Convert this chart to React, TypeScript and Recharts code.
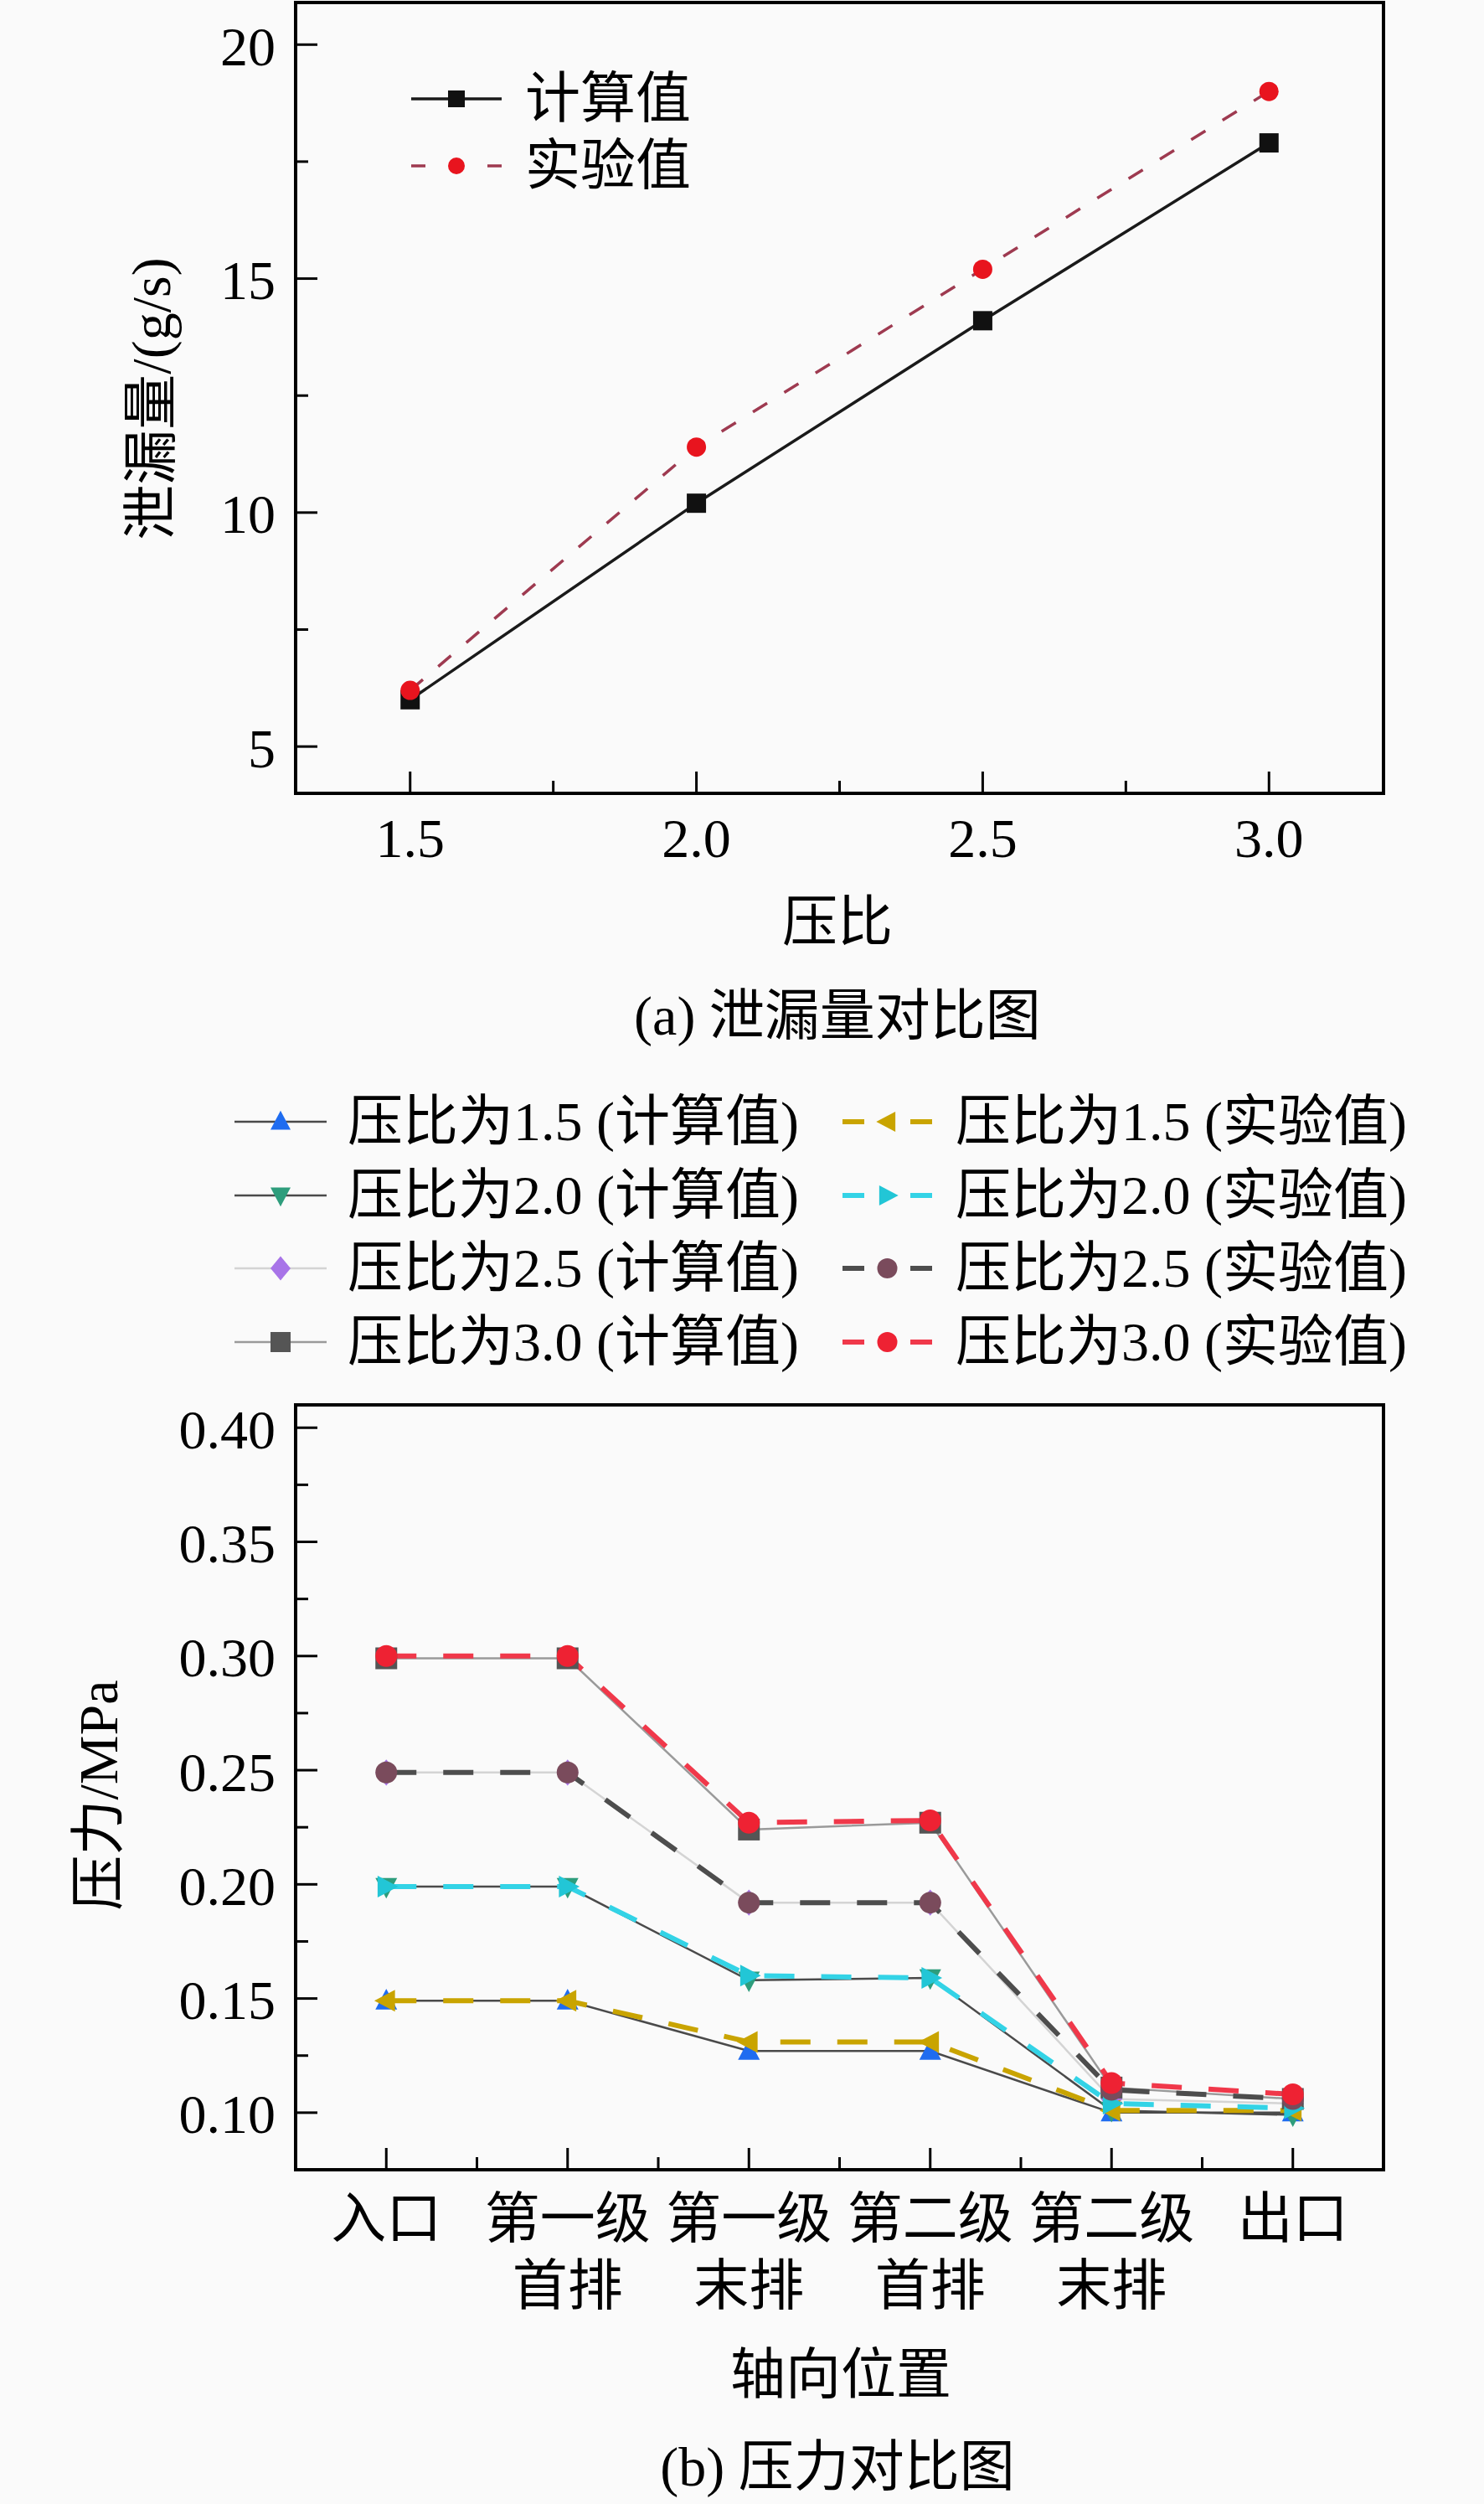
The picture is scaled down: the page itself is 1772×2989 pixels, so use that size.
import React from "react";
import { LineChart, Line, XAxis, YAxis, ReferenceArea } from "recharts";

const FONT = "'Times New Roman', 'Liberation Serif', 'Noto Sans CJK SC', serif";

// (a) 泄漏量对比图
const ratios = [1.5, 2.0, 2.5, 3.0];
const leakCalc = [6.0, 10.2, 14.1, 17.9];
const leakExp = [6.2, 11.4, 15.2, 19.0];
const leakXTicks = [1.5, 1.75, 2.0, 2.25, 2.5, 2.75, 3.0];
const leakYTicks = [5, 7.5, 10, 12.5, 15, 17.5, 20];

// (b) 压力对比图
const positions = ["入口", "第一级\n首排", "第一级\n末排", "第二级\n首排", "第二级\n末排", "出口"];
const calc15 = [0.149, 0.149, 0.127, 0.127, 0.1, 0.1];
const exp15 = [0.149, 0.149, 0.131, 0.131, 0.101, 0.101];
const calc20 = [0.199, 0.199, 0.158, 0.159, 0.101, 0.099];
const exp20 = [0.199, 0.199, 0.16, 0.159, 0.104, 0.102];
const calc25 = [0.249, 0.249, 0.192, 0.192, 0.106, 0.104];
const exp25 = [0.249, 0.249, 0.192, 0.192, 0.11, 0.106];
const calc30 = [0.299, 0.299, 0.224, 0.227, 0.111, 0.106];
const exp30 = [0.3, 0.3, 0.227, 0.228, 0.113, 0.108];
const posXTicks = [0, 0.5, 1, 1.5, 2, 2.5, 3, 3.5, 4, 4.5, 5];
const presYTicks = [0.1, 0.125, 0.15, 0.175, 0.2, 0.225, 0.25, 0.275, 0.3, 0.325, 0.35, 0.375, 0.4];

const leakRows = ratios.map((r, i) => ({ ratio: r, calc: leakCalc[i], exp: leakExp[i] }));
const presRows = positions.map((p, i) => ({
  idx: i,
  calc15: calc15[i],
  exp15: exp15[i],
  calc20: calc20[i],
  exp20: exp20[i],
  calc25: calc25[i],
  exp25: exp25[i],
  calc30: calc30[i],
  exp30: exp30[i],
}));

type Shape = "square" | "circle" | "up" | "down" | "left" | "right" | "diamond";

function Marker({ cx, cy, shape, fill, size }: { cx: number; cy: number; shape: Shape; fill: string; size: number }) {
  const r = size / 2;
  if (cx == null || cy == null) return null;
  switch (shape) {
    case "square":
      return <rect x={cx - r} y={cy - r} width={size} height={size} fill={fill} />;
    case "circle":
      return <circle cx={cx} cy={cy} r={r} fill={fill} />;
    case "up":
      return <polygon points={`${cx},${cy - r * 1.1} ${cx + r},${cy + r * 0.8} ${cx - r},${cy + r * 0.8}`} fill={fill} />;
    case "down":
      return <polygon points={`${cx},${cy + r * 1.1} ${cx + r},${cy - r * 0.8} ${cx - r},${cy - r * 0.8}`} fill={fill} />;
    case "left":
      return <polygon points={`${cx - r * 1.1},${cy} ${cx + r * 0.8},${cy - r} ${cx + r * 0.8},${cy + r}`} fill={fill} />;
    case "right":
      return <polygon points={`${cx + r * 1.1},${cy} ${cx - r * 0.8},${cy - r} ${cx - r * 0.8},${cy + r}`} fill={fill} />;
    default:
      return <polygon points={`${cx},${cy - r * 1.2} ${cx + r},${cy} ${cx},${cy + r * 1.2} ${cx - r},${cy}`} fill={fill} />;
  }
}

const leakSeries = [
  { key: "calc", name: "计算值", line: "#1a1a1a", width: 3.5, dash: undefined as string | undefined, shape: "square" as Shape, fill: "#111111", legendDash: undefined as string | undefined },
  { key: "exp", name: "实验值", line: "#9e3a50", width: 3.5, dash: "20 24", shape: "circle" as Shape, fill: "#e8141e", legendDash: "17 74" },
];

const presSeries = [
  { key: "calc15", name: "压比为1.5 (计算值)", line: "#4a4a4a", width: 2.5, dash: undefined as string | undefined, shape: "up" as Shape, fill: "#1f6cf0" },
  { key: "calc20", name: "压比为2.0 (计算值)", line: "#4a4a4a", width: 2.5, dash: undefined, shape: "down" as Shape, fill: "#2e9d7c" },
  { key: "calc25", name: "压比为2.5 (计算值)", line: "#d4d4d4", width: 2.5, dash: undefined, shape: "diamond" as Shape, fill: "#a874e8" },
  { key: "calc30", name: "压比为3.0 (计算值)", line: "#9a9a9a", width: 2.5, dash: undefined, shape: "square" as Shape, fill: "#555555" },
  { key: "exp15", name: "压比为1.5 (实验值)", line: "#c9a400", width: 6, dash: "36 32", shape: "left" as Shape, fill: "#c9a400" },
  { key: "exp20", name: "压比为2.0 (实验值)", line: "#33d3e6", width: 6, dash: "36 32", shape: "right" as Shape, fill: "#22c6d6" },
  { key: "exp25", name: "压比为2.5 (实验值)", line: "#4d4d4d", width: 6, dash: "36 32", shape: "circle" as Shape, fill: "#7a4b5c" },
  { key: "exp30", name: "压比为3.0 (实验值)", line: "#f0384a", width: 6, dash: "36 32", shape: "circle" as Shape, fill: "#ee2233" },
];

const FS = 66;
const textStyle = { fontFamily: FONT, fontSize: FS, fill: "#000" };

const LeakXTick = (props: any) => {
  const { x, y, payload } = props;
  const major = Number.isInteger(payload.value * 2);
  return (
    <g>
      <line x1={x} y1={y} x2={x} y2={y - (major ? 26 : 15)} stroke="#000" strokeWidth={3} />
      {major && (
        <text x={x} y={y + 53} textAnchor="middle" dominantBaseline="central" style={textStyle}>
          {payload.value.toFixed(1)}
        </text>
      )}
    </g>
  );
};

const LeakYTick = (props: any) => {
  const { x, y, payload } = props;
  const major = payload.value % 5 === 0;
  return (
    <g>
      <line x1={x} y1={y} x2={x + (major ? 26 : 15)} y2={y} stroke="#000" strokeWidth={3} />
      {major && (
        <text x={x - 24} y={y + 2} textAnchor="end" dominantBaseline="central" style={textStyle}>
          {payload.value}
        </text>
      )}
    </g>
  );
};

const PosXTick = (props: any) => {
  const { x, y, payload } = props;
  const major = Number.isInteger(payload.value);
  const lines = major ? positions[payload.value].split("\n") : [];
  return (
    <g>
      <line x1={x} y1={y} x2={x} y2={y - (major ? 26 : 15)} stroke="#000" strokeWidth={3} />
      {lines.map((t, i) => (
        <text key={i} x={x} y={y + 58 + i * 80} textAnchor="middle" dominantBaseline="central" style={textStyle}>
          {t}
        </text>
      ))}
    </g>
  );
};

const PresYTick = (props: any) => {
  const { x, y, payload } = props;
  const major = Math.round(payload.value * 1000) % 50 === 0;
  return (
    <g>
      <line x1={x} y1={y} x2={x + (major ? 26 : 15)} y2={y} stroke="#000" strokeWidth={3} />
      {major && (
        <text x={x - 24} y={y + 2} textAnchor="end" dominantBaseline="central" style={textStyle}>
          {payload.value.toFixed(2)}
        </text>
      )}
    </g>
  );
};

function Caption({ x, y, children, rotate }: { x: number; y: number; children: React.ReactNode; rotate?: boolean }) {
  return (
    <div
      style={{
        position: "absolute",
        left: x,
        top: y,
        transform: `translate(-50%, -50%)${rotate ? " rotate(-90deg)" : ""}`,
        fontFamily: FONT,
        fontSize: FS,
        lineHeight: 1,
        whiteSpace: "nowrap",
        color: "#000",
      }}
    >
      {children}
    </div>
  );
}

function LegendIcon({ line, width, dash, shape, fill, w, size }: any) {
  return (
    <svg width={w} height={40} style={{ display: "block" }}>
      <line x1={0} y1={20} x2={w} y2={20} stroke={line} strokeWidth={width} strokeDasharray={dash} />
      <Marker cx={w / 2} cy={20} shape={shape} fill={fill} size={size} />
    </svg>
  );
}

function LegendRow({ x, y, s, w, textX, size }: any) {
  return (
    <>
      <div style={{ position: "absolute", left: x, top: y - 20 }}>
        <LegendIcon {...s} w={w} size={size} />
      </div>
      <div
        style={{
          position: "absolute",
          left: textX,
          top: y,
          transform: "translateY(-50%)",
          fontFamily: FONT,
          fontSize: FS,
          lineHeight: 1,
          whiteSpace: "nowrap",
        }}
      >
        {s.name}
      </div>
    </>
  );
}

export default function App() {
  const legendRowsY = [1339, 1427, 1514, 1602];
  return (
    <div style={{ position: "absolute", left: 0, top: 0, width: 1772, height: 2989, background: "#fafafa", overflow: "hidden" }}>
      {/* (a) */}
      <div style={{ position: "absolute", left: 0, top: 0 }}>
        <LineChart width={1772} height={1060} data={leakRows} margin={{ top: 3, right: 120, left: 0, bottom: 0 }}>
          <ReferenceArea x1={1.3} x2={3.2} y1={4} y2={20.9} fill="none" stroke="#000" strokeWidth={4} ifOverflow="visible" />
          <XAxis
            dataKey="ratio"
            type="number"
            domain={[1.3, 3.2]}
            ticks={leakXTicks}
            interval={0}
            height={113}
            tickSize={0}
            tickMargin={0}
            tickLine={false}
            axisLine={{ stroke: "#000", strokeWidth: 4 }}
            tick={<LeakXTick />}
          />
          <YAxis
            type="number"
            domain={[4, 20.9]}
            ticks={leakYTicks}
            interval={0}
            width={353}
            tickSize={0}
            tickMargin={0}
            tickLine={false}
            axisLine={{ stroke: "#000", strokeWidth: 4 }}
            tick={<LeakYTick />}
          />
          {leakSeries.map((s) => (
            <Line
              key={s.key}
              dataKey={s.key}
              stroke={s.line}
              strokeWidth={s.width}
              strokeDasharray={s.dash}
              isAnimationActive={false}
              dot={(p: any) => <Marker key={`${s.key}-${p.index}`} cx={p.cx} cy={p.cy} shape={s.shape} fill={s.fill} size={23} />}
            />
          ))}
        </LineChart>
      </div>
      {leakSeries.map((s, i) => (
        <LegendRow key={s.key} x={491} y={[118, 198][i]} s={{ ...s, dash: s.legendDash }} w={108} textX={627} size={20} />
      ))}
      <Caption x={181} y={476} rotate>
        泄漏量/(g/s)
      </Caption>
      <Caption x={1000} y={1101}>压比</Caption>
      <Caption x={1000} y={1213}>(a) 泄漏量对比图</Caption>

      {/* legend (b) */}
      {presSeries.slice(0, 4).map((s, i) => (
        <LegendRow key={s.key} x={280} y={legendRowsY[i]} s={s} w={110} textX={415} size={24} />
      ))}
      {presSeries.slice(4).map((s, i) => (
        <LegendRow key={s.key} x={1006} y={legendRowsY[i]} s={{ ...s, dash: "26 55" }} w={107} textX={1141} size={24} />
      ))}

      {/* (b) */}
      <div style={{ position: "absolute", left: 0, top: 1640 }}>
        <LineChart width={1772} height={1200} data={presRows} margin={{ top: 37, right: 120, left: 0, bottom: 0 }}>
          <ReferenceArea x1={-0.5} x2={5.5} y1={0.075} y2={0.41} fill="none" stroke="#000" strokeWidth={4} ifOverflow="visible" />
          <XAxis
            dataKey="idx"
            type="number"
            domain={[-0.5, 5.5]}
            ticks={posXTicks}
            interval={0}
            height={250}
            tickSize={0}
            tickMargin={0}
            tickLine={false}
            axisLine={{ stroke: "#000", strokeWidth: 4 }}
            tick={<PosXTick />}
          />
          <YAxis
            type="number"
            domain={[0.075, 0.41]}
            ticks={presYTicks}
            interval={0}
            width={353}
            tickSize={0}
            tickMargin={0}
            tickLine={false}
            axisLine={{ stroke: "#000", strokeWidth: 4 }}
            tick={<PresYTick />}
          />
          {presSeries.map((s) => (
            <Line
              key={s.key}
              dataKey={s.key}
              stroke={s.line}
              strokeWidth={s.width}
              strokeDasharray={s.dash}
              isAnimationActive={false}
              dot={(p: any) => <Marker key={`${s.key}-${p.index}`} cx={p.cx} cy={p.cy} shape={s.shape} fill={s.fill} size={26} />}
            />
          ))}
        </LineChart>
      </div>
      <Caption x={118} y={2143} rotate>
        压力/MPa
      </Caption>
      <Caption x={1004} y={2835}>轴向位置</Caption>
      <Caption x={1000} y={2945}>(b) 压力对比图</Caption>
    </div>
  );
}
